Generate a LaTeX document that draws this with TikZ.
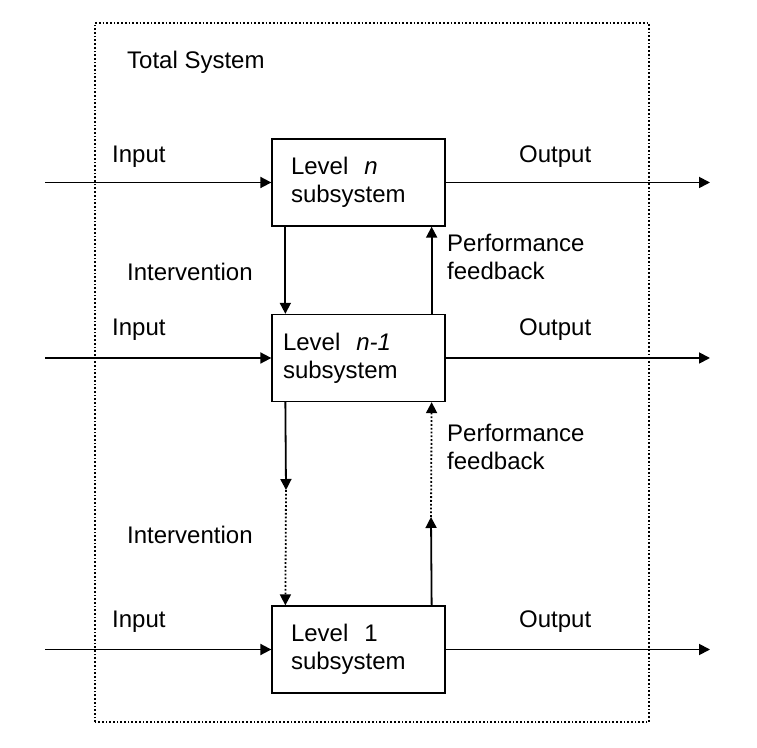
\documentclass[tikz,border=0pt]{standalone}
\usepackage{fontspec}
\setmainfont{Liberation Sans}
\usetikzlibrary{arrows.meta}

\begin{document}
\begin{tikzpicture}[x=1pt,y=1pt,
  every node/.style={font=\fontsize{24}{28}\selectfont},
  levelbox/.style={draw,line width=1.3pt,minimum height=87pt,align=left,inner ysep=0pt},
  flow/.style={line width=1.8pt,-{Triangle[length=11pt,width=11pt]}},
  lbl/.style={anchor=west,inner sep=0pt,align=left}]
\useasboundingbox (0,0) rectangle (757,747);
\draw[dotted,line width=1.7pt] (95,25) rectangle (649,724);
\node[lbl] (total) at (127,685) {Total System};
\node[levelbox,inner xsep=19pt,text width=135pt] (lvn) at (358.5,564.5) {Level~ \textit{n}\\subsystem};
\node[levelbox,inner xsep=11pt,text width=151pt] (lvm) at (358.5,389) {Level~ \textit{n-1}\\subsystem};
\node[levelbox,inner xsep=19pt,text width=135pt] (lvo) at (358.5,97.5) {Level~ 1\\subsystem};
\coordinate (inn) at (45,564.5);
\coordinate (inm) at (45,389);
\coordinate (ino) at (45,97.5);
\coordinate (outn) at (710,564.5);
\coordinate (outm) at (710,389);
\coordinate (outo) at (710,97.5);
\draw[flow] (inn) -- (lvn.west);
\draw[flow] (inm) -- (lvm.west);
\draw[flow] (ino) -- (lvo.west);
\draw[flow] (lvn.east) -- (outn);
\draw[flow] (lvm.east) -- (outm);
\draw[flow] (lvo.east) -- (outo);
\draw[flow] ([xshift=14pt]lvn.south west) -- ([xshift=14pt]lvm.north west);
\draw[flow] ([xshift=-14pt]lvm.north east) -- ([xshift=-14pt]lvn.south east);
\coordinate (ivmid) at (286,257);
\coordinate (fbmid) at (431,230);
\draw[flow] ([xshift=14pt]lvm.south west) -- (ivmid);
\draw[flow,dotted] (ivmid) -- ([xshift=14pt]lvo.north west);
\draw[flow] ([xshift=-14pt]lvo.north east) -- (fbmid);
\draw[flow,dotted] (fbmid) -- ([xshift=-14pt]lvm.south east);
\node[lbl] (inputn) at (112,590) {Input};
\node[lbl] (inputm) at (112,417) {Input};
\node[lbl] (inputo) at (112,125) {Input};
\node[lbl] (outputn) at (519,590) {Output};
\node[lbl] (outputm) at (519,417) {Output};
\node[lbl] (outputo) at (519,125) {Output};
\node[lbl] (intvn) at (127,475) {Intervention};
\node[lbl] (intvm) at (127,212) {Intervention};
\node[lbl] (perfn) at (447,490) {Performance\\feedback};
\node[lbl] (perfm) at (447,300) {Performance\\feedback};
\end{tikzpicture}
\end{document}
